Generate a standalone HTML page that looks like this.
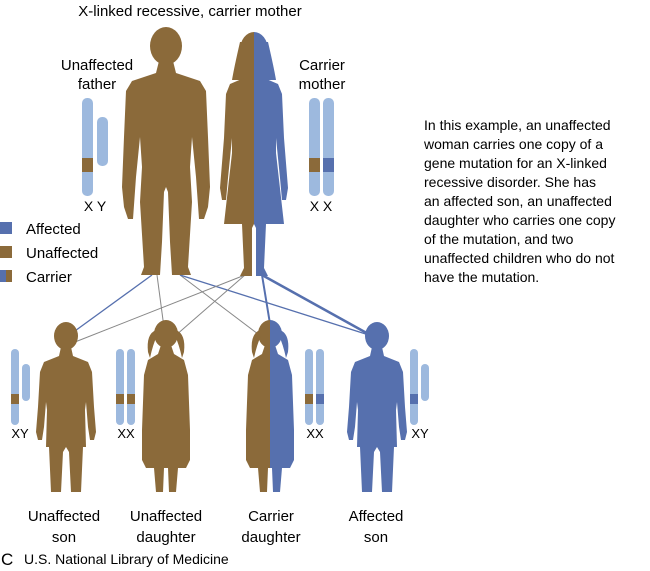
<!DOCTYPE html>
<html><head><meta charset="utf-8"><style>
body{margin:0;background:#fff;}
svg{display:block;font-family:"Liberation Sans",Arial,sans-serif;}
</style></head><body>
<svg width="650" height="571" viewBox="0 0 650 571" xmlns="http://www.w3.org/2000/svg">
<defs>
<g id="man">
<ellipse cx="0" cy="19" rx="16" ry="19"/>
<polygon points="-7,34 7,34 10,46 34,54 40,64 42,110 44,160 42,180 38,192 33,192 32,178 30,150 26,110 24,140 26,175 22,240 25,248 6,248 4,215 2,165 0,160 -2,165 -4,215 -6,248 -25,248 -22,240 -26,175 -24,140 -26,110 -30,150 -32,178 -33,192 -38,192 -42,180 -44,160 -42,110 -40,64 -34,54 -10,46"/>
</g>
<g id="woman">
<ellipse cx="0" cy="22" rx="14" ry="18"/>
<path d="M-14,14 Q-20,40 -22,52 L22,52 Q20,40 14,14 Z"/>
<polygon points="-6,38 6,38 10,50 24,56 28,66 30,110 34,160 32,172 28,172 26,150 22,110 22,125 30,196 12,196 10,240 14,248 2,248 2,200 0,196 -2,200 -2,248 -14,248 -10,240 -12,196 -30,196 -22,125 -22,110 -26,150 -28,172 -32,172 -34,160 -30,110 -28,66 -24,56 -10,50"/>
</g>
<g id="boy">
<ellipse cx="0" cy="14" rx="12" ry="14"/>
<polygon points="-5,25 5,25 7,34 22,40 26,50 28,85 30,110 28,118 24,118 22,105 20,80 19,88 20,125 17,125 15,170 5,170 3,130 0,125 -3,130 -5,170 -15,170 -17,125 -20,125 -19,88 -20,80 -22,105 -24,118 -28,118 -30,110 -28,85 -26,50 -22,40 -7,34"/>
</g>
<g id="girl">
<ellipse cx="0" cy="14" rx="12" ry="14"/>
<path d="M-10,10 Q-20,14 -18,32 L-16,38 Q-13,24 -9,16 Z M10,10 Q20,14 18,32 L16,38 Q13,24 9,16 Z"/>
<polygon points="-5,25 5,25 8,34 18,40 22,55 24,110 24,140 20,148 12,148 10,172 3,172 2,148 0,148 -2,148 -3,172 -10,172 -12,148 -20,148 -24,140 -24,110 -22,55 -18,40 -8,34"/>
</g>
<clipPath id="L"><rect x="-100" y="-10" width="100" height="300"/></clipPath>
<clipPath id="R"><rect x="0" y="-10" width="100" height="300"/></clipPath>
<g id="chX"><rect x="0" y="0" width="10" height="98" rx="5" fill="#9db9de"/></g>
</defs>

<text x="190" y="16" font-size="15" text-anchor="middle">X-linked recessive, carrier mother</text>

<!-- lines -->
<g fill="none">
<line x1="152" y1="275" x2="68" y2="336" stroke="#5670ae" stroke-width="1.3"/>
<line x1="157" y1="275" x2="165" y2="335" stroke="#888" stroke-width="1"/>
<line x1="180" y1="275" x2="262" y2="337" stroke="#888" stroke-width="1"/>
<line x1="180" y1="275" x2="372" y2="336" stroke="#5670ae" stroke-width="1.3"/>
<line x1="245" y1="275" x2="75" y2="342" stroke="#888" stroke-width="1"/>
<line x1="245" y1="275" x2="175" y2="336" stroke="#888" stroke-width="1"/>
<line x1="262" y1="275" x2="272" y2="336" stroke="#5670ae" stroke-width="2"/>
<line x1="262" y1="275" x2="372" y2="336" stroke="#5670ae" stroke-width="2.5"/>
</g>

<!-- father -->
<g transform="translate(166,27)" fill="#8b6a3a"><use href="#man"/></g>
<!-- mother -->
<g transform="translate(254,28)">
<g clip-path="url(#L)" fill="#8b6a3a"><use href="#woman"/></g>
<g clip-path="url(#R)" fill="#5670ae"><use href="#woman"/></g>
</g>

<!-- children -->
<g transform="translate(66,322)" fill="#8b6a3a"><use href="#boy"/></g>
<g transform="translate(166,320)" fill="#8b6a3a"><use href="#girl"/></g>
<g transform="translate(270,320)">
<g clip-path="url(#L)" fill="#8b6a3a"><use href="#girl"/></g>
<g clip-path="url(#R)" fill="#5670ae"><use href="#girl"/></g>
</g>
<g transform="translate(377,322)" fill="#5670ae"><use href="#boy"/></g>

<!-- parent chromosomes -->
<rect x="82" y="98" width="11" height="98" rx="5" fill="#9db9de"/>
<rect x="82" y="158" width="11" height="14" fill="#8b6a3a"/>
<rect x="97" y="117" width="11" height="49" rx="5" fill="#9db9de"/>
<text x="95" y="211" font-size="14" text-anchor="middle">X Y</text>
<rect x="309" y="98" width="11" height="98" rx="5" fill="#9db9de"/>
<rect x="309" y="158" width="11" height="14" fill="#8b6a3a"/>
<rect x="323" y="98" width="11" height="98" rx="5" fill="#9db9de"/>
<rect x="323" y="158" width="11" height="14" fill="#5670ae"/>
<text x="321" y="211" font-size="14" text-anchor="middle">X X</text>

<!-- child chromosomes -->
<rect x="11" y="349" width="8" height="76" rx="4" fill="#9db9de"/>
<rect x="11" y="394" width="8" height="10" fill="#8b6a3a"/>
<rect x="22" y="364" width="8" height="37" rx="4" fill="#9db9de"/>
<text x="20" y="438" font-size="13" text-anchor="middle">XY</text>
<rect x="116" y="349" width="8" height="76" rx="4" fill="#9db9de"/>
<rect x="116" y="394" width="8" height="10" fill="#8b6a3a"/>
<rect x="127" y="349" width="8" height="76" rx="4" fill="#9db9de"/>
<rect x="127" y="394" width="8" height="10" fill="#8b6a3a"/>
<text x="126" y="438" font-size="13" text-anchor="middle">XX</text>
<rect x="305" y="349" width="8" height="76" rx="4" fill="#9db9de"/>
<rect x="305" y="394" width="8" height="10" fill="#8b6a3a"/>
<rect x="316" y="349" width="8" height="76" rx="4" fill="#9db9de"/>
<rect x="316" y="394" width="8" height="10" fill="#5670ae"/>
<text x="315" y="438" font-size="13" text-anchor="middle">XX</text>
<rect x="410" y="349" width="8" height="76" rx="4" fill="#9db9de"/>
<rect x="410" y="394" width="8" height="10" fill="#5670ae"/>
<rect x="421" y="364" width="8" height="37" rx="4" fill="#9db9de"/>
<text x="420" y="438" font-size="13" text-anchor="middle">XY</text>

<!-- labels -->
<text font-size="15" text-anchor="middle"><tspan x="97" y="70">Unaffected</tspan><tspan x="97" y="89">father</tspan></text>
<text font-size="15" text-anchor="middle"><tspan x="322" y="70">Carrier</tspan><tspan x="322" y="89">mother</tspan></text>

<rect x="0" y="222" width="12" height="12" fill="#5670ae"/>
<text x="26" y="234" font-size="15">Affected</text>
<rect x="0" y="246" width="12" height="12" fill="#8b6a3a"/>
<text x="26" y="258" font-size="15">Unaffected</text>
<rect x="0" y="270" width="6" height="12" fill="#5670ae"/>
<rect x="6" y="270" width="6" height="12" fill="#8b6a3a"/>
<text x="26" y="282" font-size="15">Carrier</text>

<text font-size="14"><tspan x="424" y="130">In this example, an unaffected</tspan><tspan x="424" y="149">woman carries one copy of a</tspan><tspan x="424" y="168">gene mutation for an X-linked</tspan><tspan x="424" y="187">recessive disorder. She has</tspan><tspan x="424" y="206">an affected son, an unaffected</tspan><tspan x="424" y="225">daughter who carries one copy</tspan><tspan x="424" y="244">of the mutation, and two</tspan><tspan x="424" y="263">unaffected children who do not</tspan><tspan x="424" y="282">have the mutation.</tspan></text>

<text font-size="15" text-anchor="middle"><tspan x="64" y="521">Unaffected</tspan><tspan x="64" y="542">son</tspan></text>
<text font-size="15" text-anchor="middle"><tspan x="166" y="521">Unaffected</tspan><tspan x="166" y="542">daughter</tspan></text>
<text font-size="15" text-anchor="middle"><tspan x="271" y="521">Carrier</tspan><tspan x="271" y="542">daughter</tspan></text>
<text font-size="15" text-anchor="middle"><tspan x="376" y="521">Affected</tspan><tspan x="376" y="542">son</tspan></text>

<text x="1" y="565" font-size="17">C</text>
<text x="24" y="564" font-size="14">U.S. National Library of Medicine</text>
</svg>
</body></html>
